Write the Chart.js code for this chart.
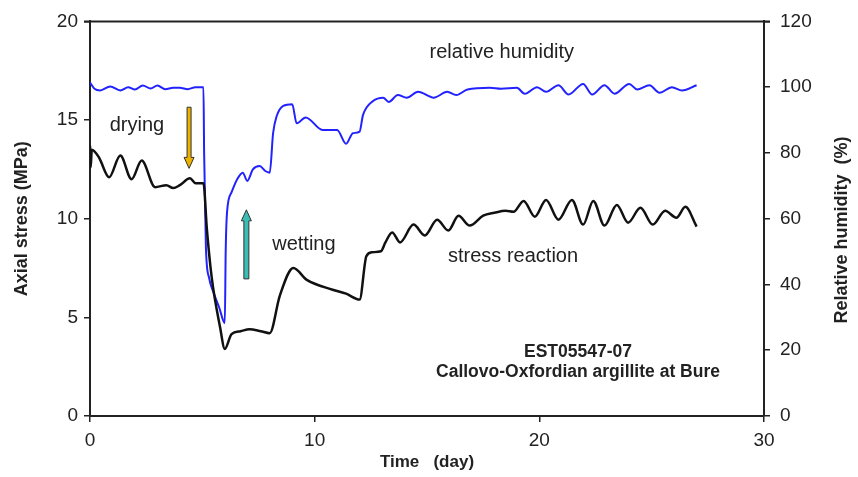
<!DOCTYPE html>
<html>
<head>
<meta charset="utf-8">
<script src="https://cdn.jsdelivr.net/npm/chart.js@4/dist/chart.umd.min.js"></script>
<style>
html,body{margin:0;padding:0;background:#fff;}
canvas{display:block;}
</style>
</head>
<body>
<canvas id="c" width="858" height="477"></canvas>
<script>
// ---- data ----
const stressDay = [0.0,0.03,0.08,0.4,0.85,1.35,1.85,2.3,2.9,3.4,3.7,4.0,4.45,4.7,5.05,5.2,5.42,5.79,6.0,6.3,6.7,7.1,7.6,8.0,8.45,9.05,9.65,10.8,11.4,12.0,12.3,12.55,12.95,13.15,13.45,13.8,14.4,14.9,15.45,15.95,16.4,16.9,17.5,18.0,18.5,18.85,19.3,19.8,20.3,20.85,21.45,21.95,22.4,22.9,23.45,23.95,24.5,25.05,25.6,26.1,26.5,27.0];
const stressMPa = [13.7,12.6,13.5,13.1,12.1,13.2,12.0,12.95,11.6,11.7,11.55,11.7,12.05,11.8,11.8,9.5,7.0,4.5,3.4,4.15,4.3,4.4,4.3,4.2,6.1,7.5,6.9,6.4,6.2,5.9,8.1,8.3,8.35,8.8,9.3,8.8,9.7,9.15,9.95,9.4,10.15,9.65,10.15,10.3,10.4,10.35,10.9,10.1,10.95,9.95,10.95,9.7,10.9,9.65,10.7,9.8,10.55,9.7,10.4,10.05,10.6,9.6];
const rhDay = [0.0,0.2,0.45,0.9,1.35,1.7,2.0,2.35,2.7,3.0,3.35,3.7,4.0,4.35,4.7,5.05,5.08,5.16,5.3,5.5,5.75,6.0,6.04,6.1,6.3,6.55,6.8,7.0,7.25,7.55,7.8,8.0,8.15,8.3,8.6,9.0,9.2,9.6,10.35,11.0,11.4,11.7,12.0,12.15,12.6,13.05,13.3,13.7,14.1,14.6,15.3,15.9,16.3,16.8,17.8,18.3,19.0,19.35,19.9,20.3,20.85,21.3,21.95,22.35,22.9,23.35,24.0,24.35,24.9,25.35,25.9,26.35,27.0];
const rhPct = [101.4,99.5,99.0,100.2,99.0,100.0,99.3,100.5,99.6,100.5,99.4,99.8,99.8,99.4,100.0,100.0,80,51,42,37.5,33,28.3,50,62,68,72,74,71.5,75,76,74.5,74,86,91,94.3,94.8,89,90.8,87,87,82.8,86,86.5,91.5,95.8,96.8,95.5,97.6,96.8,98.6,96.8,98.6,97.6,99.3,99.8,99.5,99.8,98,100,98.6,100.6,97.8,101,97.8,100.6,98,101,99.3,100.6,98.3,100,99,100.6];
const xTicks = [0,10,20,30];
const stressTicks = [0,5,10,15,20];
const rhTicks = [0,20,40,60,80,100,120];

const FONT = "'Liberation Sans', Arial, Helvetica, sans-serif";
const TXT = '#222';

const annotations = [
  {text:'relative humidity', day:18.33, mpa:18.4, font:'20px '+FONT},
  {text:'drying', day:2.09, mpa:14.7, font:'20px '+FONT},
  {text:'wetting', day:9.52, mpa:8.7, font:'20px '+FONT},
  {text:'stress reaction', day:18.83, mpa:8.1, font:'20px '+FONT},
  {text:'EST05547-07', day:21.72, mpa:3.25, font:'bold 17.5px '+FONT},
  {text:'Callovo-Oxfordian argillite at Bure', day:21.72, mpa:2.2, font:'bold 17.5px '+FONT}
];
const arrows = [
  {day:4.41, from:15.65, to:12.55, fill:'#EDB200', shaft:4},
  {day:6.96, from:6.95, to:10.45, fill:'#3CBDB4', shaft:5}
];

const extras = {
  id:'extras',
  afterDraw(chart){
    const {ctx, chartArea:a, scales:{x, y}} = chart;
    ctx.save();
    // top border of the box
    ctx.strokeStyle = TXT; ctx.lineWidth = 2;
    ctx.beginPath(); ctx.moveTo(a.left-6, a.top); ctx.lineTo(a.right+6, a.top); ctx.stroke();
    // arrows
    arrows.forEach(ar=>{
      const px = x.getPixelForValue(ar.day);
      const p0 = y.getPixelForValue(ar.from);
      const p1 = y.getPixelForValue(ar.to);
      const dir = p1 > p0 ? 1 : -1;
      const headL = 11, headW = 5, sw = ar.shaft/2;
      const hb = p1 - dir*headL;
      ctx.beginPath();
      ctx.moveTo(px-sw, p0); ctx.lineTo(px+sw, p0);
      ctx.lineTo(px+sw, hb); ctx.lineTo(px+headW, hb);
      ctx.lineTo(px, p1); ctx.lineTo(px-headW, hb);
      ctx.lineTo(px-sw, hb); ctx.closePath();
      ctx.fillStyle = ar.fill; ctx.fill();
      ctx.strokeStyle = '#333'; ctx.lineWidth = 1; ctx.stroke();
    });
    // texts
    ctx.fillStyle = TXT; ctx.textAlign = 'center'; ctx.textBaseline = 'middle';
    annotations.forEach(t=>{
      ctx.font = t.font;
      ctx.fillText(t.text, x.getPixelForValue(t.day), y.getPixelForValue(t.mpa));
    });
    // right axis title (reads bottom to top)
    ctx.translate(842, 230); ctx.rotate(-Math.PI/2);
    ctx.font = 'bold 18px '+FONT;
    ctx.fillText('Relative humidity  (%)', 0, 0);
    ctx.restore();
  }
};

const tickGrid = {drawOnChartArea:false, drawTicks:true, tickLength:6, color:TXT, lineWidth:1.5};

new Chart(document.getElementById('c'), {
  type:'scatter',
  data:{datasets:[
    {label:'stress reaction', data:stressDay.map((d,i)=>({x:d, y:stressMPa[i]})), yAxisID:'y',
     showLine:true, pointRadius:0, borderColor:'#111', borderWidth:2.5, cubicInterpolationMode:'monotone'},
    {label:'relative humidity', data:rhDay.map((d,i)=>({x:d, y:rhPct[i]})), yAxisID:'y1',
     showLine:true, pointRadius:0, borderColor:'#2222ff', borderWidth:2, cubicInterpolationMode:'monotone'}
  ]},
  options:{
    responsive:false, animation:false,
    layout:{padding:{top:16, left:0, right:0, bottom:0}},
    plugins:{legend:{display:false}, tooltip:{enabled:false}},
    scales:{
      x:{type:'linear', min:0, max:30,
         afterBuildTicks(s){ s.ticks = xTicks.map(v=>({value:v})); },
         ticks:{font:{size:19, family:FONT}, color:TXT, padding:7},
         grid:tickGrid, border:{display:true, color:TXT, width:2},
         title:{display:true, text:'Time   (day)', color:TXT, font:{size:17, weight:'bold', family:FONT}, padding:{top:0, bottom:4}},
         afterFit(s){ s.height = 61; }},
      y:{type:'linear', position:'left', min:0, max:20,
         afterBuildTicks(s){ s.ticks = stressTicks.map(v=>({value:v})); },
         ticks:{font:{size:19, family:FONT}, color:TXT, padding:6},
         grid:tickGrid, border:{display:true, color:TXT, width:2},
         title:{display:true, text:'Axial stress (MPa)', color:TXT, font:{size:18, weight:'bold', family:FONT}, padding:{top:11, bottom:0}},
         afterFit(s){ s.width = 90; }},
      y1:{type:'linear', position:'right', min:0, max:120,
         afterBuildTicks(s){ s.ticks = rhTicks.map(v=>({value:v})); },
         ticks:{font:{size:19, family:FONT}, color:TXT, padding:10},
         grid:tickGrid, border:{display:true, color:TXT, width:2},
         afterFit(s){ s.width = 94; }}
    }
  },
  plugins:[extras]
});
</script>
</body>
</html>
